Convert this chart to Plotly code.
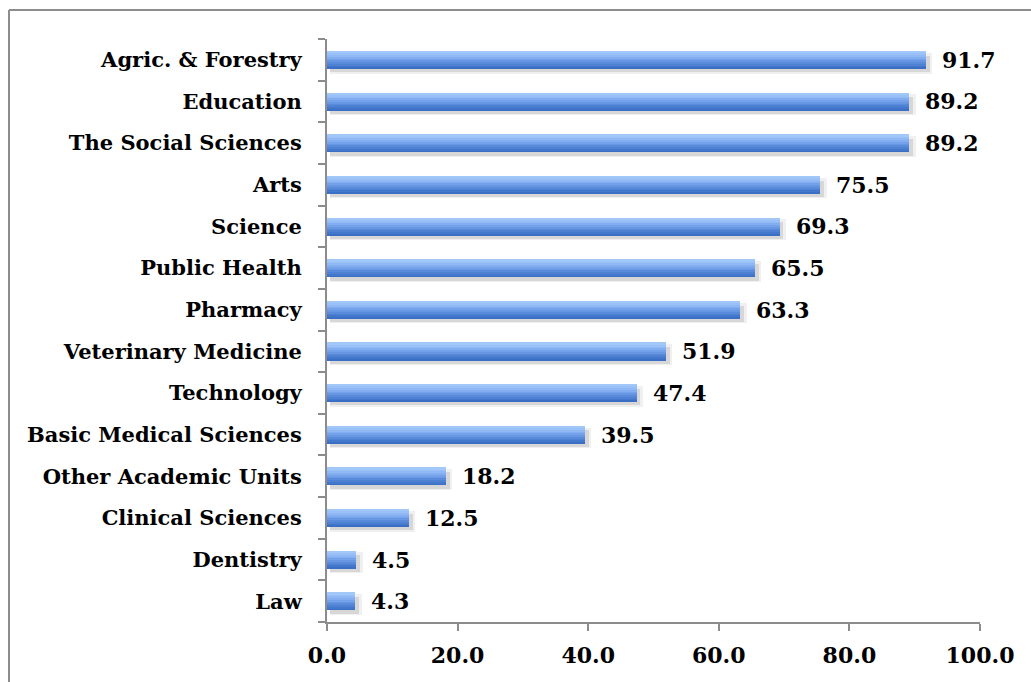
import plotly.graph_objects as go

categories = ["Agric. & Forestry", "Education", "The Social Sciences", "Arts", "Science",
              "Public Health", "Pharmacy", "Veterinary Medicine", "Technology",
              "Basic Medical Sciences", "Other Academic Units", "Clinical Sciences",
              "Dentistry", "Law"]
values = [91.7, 89.2, 89.2, 75.5, 69.3, 65.5, 63.3, 51.9, 47.4, 39.5, 18.2, 12.5, 4.5, 4.3]
x_ticks = [0, 20, 40, 60, 80, 100]

FONT = "DejaVu Serif"
GRAY = "#8c8c8c"

fig = go.Figure()

# soft shadow below/right of each bar
shadow_x = [v + 0.6 for v in values]
fig.add_trace(go.Bar(x=shadow_x, y=categories, orientation="h", base=0.4,
                     offset=-0.33, width=0.5, marker=dict(color="rgba(0,0,0,0.06)", line=dict(width=0)),
                     hoverinfo="skip", showlegend=False))
fig.add_trace(go.Bar(x=[v + 0.2 for v in values], y=categories, orientation="h", base=0.4,
                     offset=-0.30, width=0.4, marker=dict(color="rgba(0,0,0,0.10)", line=dict(width=0)),
                     hoverinfo="skip", showlegend=False))

# gradient bars built from horizontal strips (dark bottom -> light top)
strip_colors = ["#3a6fc5", "#4377cb", "#4e81d2", "#5a8bda", "#6797e2", "#74a2ea",
                "#82aef1", "#8fb8f5", "#99c0f7", "#a2c7f9"]
bar_half = 0.21
n = len(strip_colors)
h = 2 * bar_half / n
for i, c in enumerate(strip_colors):
    fig.add_trace(go.Bar(x=values, y=categories, orientation="h",
                         offset=-bar_half + i * h, width=h * 1.05,
                         marker=dict(color=c, line=dict(width=0)),
                         hoverinfo="skip", showlegend=False))

annotations = []
for cat, v in zip(categories, values):
    annotations.append(dict(x=v, y=cat, xref="x", yref="y", text=f"{v:.1f}",
                            showarrow=False, xanchor="left", yanchor="middle", xshift=14,
                            font=dict(family=FONT, size=22, color="black", weight="bold")))

fig.update_layout(
    width=1031, height=682,
    margin=dict(l=327, r=51, t=39, b=60),
    paper_bgcolor="white", plot_bgcolor="white",
    barmode="overlay", bargap=0,
    showlegend=False,
    annotations=annotations,
    shapes=[
        dict(type="line", xref="paper", yref="paper", x0=-0.487, x1=1.2, y0=1.0497, y1=1.0497,
             line=dict(color=GRAY, width=2)),
        dict(type="line", xref="paper", yref="paper", x0=-0.487, x1=-0.487, y0=-0.2, y1=1.0497,
             line=dict(color=GRAY, width=2)),
    ],
)

fig.update_xaxes(range=[0, 100], tickvals=x_ticks, tickformat=".1f",
                 showline=True, linecolor=GRAY, linewidth=2,
                 ticks="outside", ticklen=7, tickwidth=2, tickcolor=GRAY,
                 ticklabelstandoff=6, automargin=False,
                 showgrid=False, zeroline=False,
                 tickfont=dict(family=FONT, size=22, color="black", weight="bold"))
fig.update_yaxes(categoryorder="array", categoryarray=list(reversed(categories)),
                 range=[-0.5, len(categories) - 0.5],
                 showline=True, linecolor=GRAY, linewidth=2,
                 ticks="outside", tickson="boundaries", ticklen=7, tickwidth=2, tickcolor=GRAY,
                 ticklabelstandoff=19, automargin=False,
                 showgrid=False, zeroline=False,
                 tickfont=dict(family=FONT, size=21, color="black", weight="bold"))

fig.write_html("out.html")
